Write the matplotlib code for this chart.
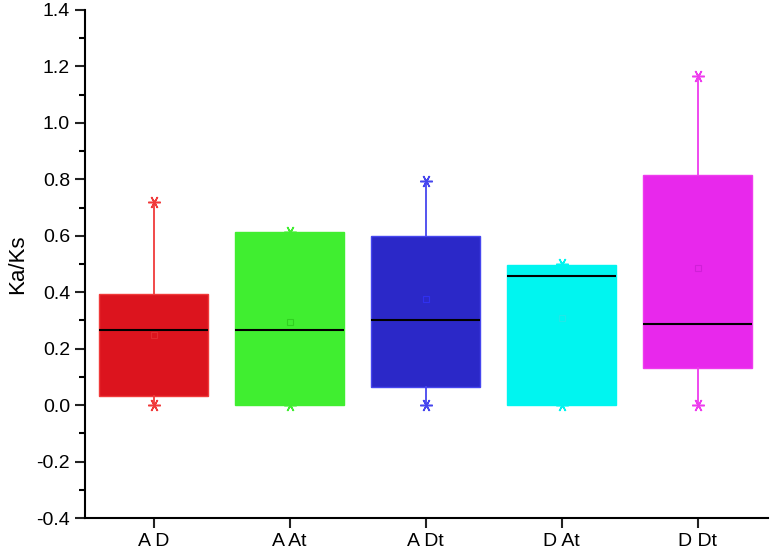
import matplotlib.pyplot as plt
from matplotlib.ticker import MultipleLocator

plt.rcParams['font.family'] = ['Liberation Sans', 'DejaVu Sans']

# data
groups = ["A D", "A At", "A Dt", "D At", "D Dt"]
whis_low = [0.0, 0.0, 0.0, 0.0, 0.0]
q1 = [0.032, 0.0, 0.063, 0.0, 0.13]
median = [0.265, 0.268, 0.30, 0.457, 0.288]
q3 = [0.393, 0.613, 0.60, 0.497, 0.815]
whis_high = [0.72, 0.615, 0.795, 0.50, 1.165]
mean = [0.25, 0.294, 0.375, 0.31, 0.485]

box_colors = ["#DC141E", "#40EE30", "#2B28C8", "#00F5F0", "#E828EC"]
line_colors = ["#F03A3A", "#40EE30", "#4646EE", "#00F5F0", "#EE3CEE"]
mean_colors = ["#E42A30", "#30D020", "#3030F0", "#20E8E8", "#D020D8"]

fig = plt.figure(figsize=(7.7, 5.5), dpi=100)
ax = fig.add_axes([0.110, 0.058, 0.887, 0.924])

positions = list(range(1, len(groups) + 1))
for i, pos in enumerate(positions):
    stats = [{
        "whislo": whis_low[i], "q1": q1[i], "med": median[i],
        "q3": q3[i], "whishi": whis_high[i], "fliers": [], "mean": mean[i],
    }]
    ax.bxp(stats, positions=[pos], widths=0.8, patch_artist=True,
           showcaps=False, showmeans=True,
           boxprops=dict(facecolor=box_colors[i], edgecolor=line_colors[i], linewidth=1),
           whiskerprops=dict(color=line_colors[i], linewidth=1.3),
           medianprops=dict(color="black", linewidth=1.5),
           meanprops=dict(marker="s", markersize=5, markerfacecolor="none",
                          markeredgecolor=mean_colors[i], markeredgewidth=0.8))
    # asterisk caps at the whisker ends
    ax.plot([pos, pos], [whis_low[i], whis_high[i]], linestyle="none",
            marker=(6, 2, 90), markersize=9, color=line_colors[i],
            markeredgewidth=1.1, zorder=3)

ax.set_xlim(0.493, 5.515)
ax.set_ylim(-0.4, 1.4)
ax.set_xticks(positions)
ax.set_xticklabels(groups)
ax.yaxis.set_major_locator(MultipleLocator(0.2))
ax.yaxis.set_minor_locator(MultipleLocator(0.1))
ax.yaxis.set_major_formatter(plt.FormatStrFormatter('%.1f'))
ax.set_ylabel("Ka/Ks", fontsize=16, labelpad=6)

for side in ["top", "right"]:
    ax.spines[side].set_visible(False)
for side in ["left", "bottom"]:
    ax.spines[side].set_linewidth(1.5)
ax.tick_params(axis="both", which="major", direction="out", length=7, width=1.5,
               labelsize=14, color="#222222")
ax.tick_params(axis="y", which="minor", direction="out", length=4, width=1.5)

fig.savefig("out.png", dpi=100)
